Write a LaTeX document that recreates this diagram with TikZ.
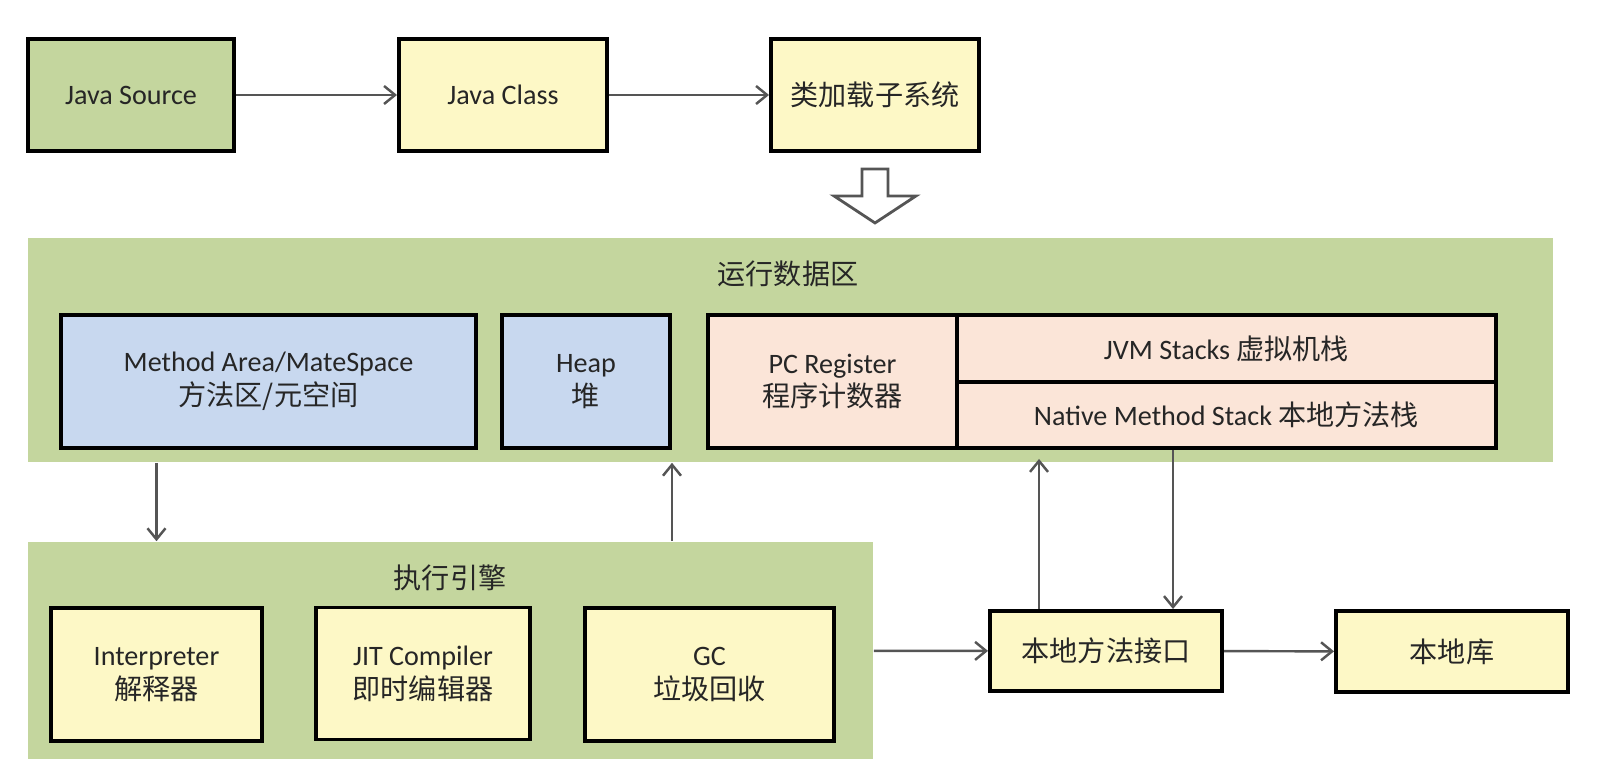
\documentclass[tikz,border=0pt]{standalone}
\usepackage{fontspec}
\setmainfont{Carlito}
\newfontfamily\cjk{Noto Sans CJK SC}
\usetikzlibrary{arrows.meta,calc}
\definecolor{verde}{HTML}{C4D69E}
\definecolor{amarillo}{HTML}{FDF8C6}
\definecolor{azul}{HTML}{C8D8EF}
\definecolor{rosa}{HTML}{FBE5D8}
\definecolor{gris}{HTML}{555555}
\definecolor{texto}{HTML}{262626}

\begin{document}
\begin{tikzpicture}[x=0.01cm, y=-0.01cm,
    font=\fontsize{8}{9.6}\selectfont, text=texto,
    caja/.style={draw=black, line width=1.1pt, inner sep=0pt, align=center},
    zona/.style={fill=verde, inner sep=0pt},
    flecha/.style={draw=gris, line width=0.7pt, -{Straight Barb[length=1.1mm, width=1.8mm]}}]
    \useasboundingbox (0,0) rectangle (1604,768);

    % Fila superior
    \node[caja, fill=verde, minimum width=2.06cm, minimum height=1.12cm] (src) at (131,95) {Java Source};
    \node[caja, fill=amarillo, minimum width=2.08cm, minimum height=1.12cm] (cls) at (503,95) {Java Class};
    \node[caja, fill=amarillo, minimum width=2.08cm, minimum height=1.12cm] (loader) at (875,95) {\cjk 类加载子系统};
    \draw[flecha] (src) -- (cls);
    \draw[flecha] (cls) -- (loader);

    % Flecha hueca hacia abajo
    \draw[gris, fill=white, line width=0.8pt] ($(loader.south)+(-13,16)$) -- ++(26,0) -- ++(0,27)
        -- ++(28,0) -- ++(-41,27) -- ++(-41,-27) -- ++(28,0) -- cycle;

    % Area de datos en tiempo de ejecucion
    \node[zona, minimum width=15.25cm, minimum height=2.24cm] (rda) at (790.5,350) {};
    \node (rdat) at (788,274) {\cjk 运行数据区};
    \node[caja, fill=azul, minimum width=4.15cm, minimum height=1.33cm] (mthd) at (268.5,381.5)
        {Method Area/MateSpace\\{\cjk 方法区/元空间}};
    \node[caja, fill=azul, minimum width=1.68cm, minimum height=1.33cm] (heap) at (586,381.5)
        {Heap\\{\cjk 堆}};
    \node[caja, fill=rosa, minimum width=2.49cm, minimum height=1.33cm] (pc) at (832.5,381.5)
        {PC Register\\{\cjk 程序计数器}};
    \node[caja, fill=rosa, minimum width=5.39cm, minimum height=0.67cm] (jvm) at (1226.5,348.5)
        {JVM Stacks {\cjk 虚拟机栈}};
    \node[caja, fill=rosa, minimum width=5.39cm, minimum height=0.66cm] (native) at (1226.5,415)
        {Native Method Stack {\cjk 本地方法栈}};

    % Motor de ejecucion
    \node[zona, minimum width=8.45cm, minimum height=2.17cm] (exe) at (450.5,650.5) {};
    \node (exet) at (450,578) {\cjk 执行引擎};
    \node[caja, fill=amarillo, minimum width=2.11cm, minimum height=1.33cm] (interp) at (156.5,674.5)
        {Interpreter\\{\cjk 解释器}};
    \node[caja, fill=amarillo, minimum width=2.14cm, minimum height=1.32cm] (jit) at (423,673.5)
        {JIT Compiler\\{\cjk 即时编辑器}};
    \node[caja, fill=amarillo, minimum width=2.49cm, minimum height=1.33cm] (gc) at (709.5,674.5)
        {GC\\{\cjk 垃圾回收}};

    % Interfaz nativa
    \node[caja, fill=amarillo, minimum width=2.32cm, minimum height=0.80cm] (jni) at (1106,651) {\cjk 本地方法接口};
    \node[caja, fill=amarillo, minimum width=2.32cm, minimum height=0.81cm] (lib) at (1452,651.5) {\cjk 本地库};

    % Conexiones
    \draw[flecha] (rda.south -| interp) -- (exe.north -| interp);
    \draw[flecha] (exe.north -| heap.east) -- (rda.south -| heap.east);
    \draw[flecha] (exe) -- (jni);
    \draw[flecha] (jni) -- (lib);
    \coordinate (jniup) at ($(jni.north)+(-67,0)$);
    \coordinate (jnidn) at ($(jni.north)+(67,0)$);
    \draw[flecha] (jniup) -- ($(jniup |- native.south)+(0,9)$);
    \draw[flecha] (native.south -| jnidn) -- (jnidn);
\end{tikzpicture}
\end{document}
